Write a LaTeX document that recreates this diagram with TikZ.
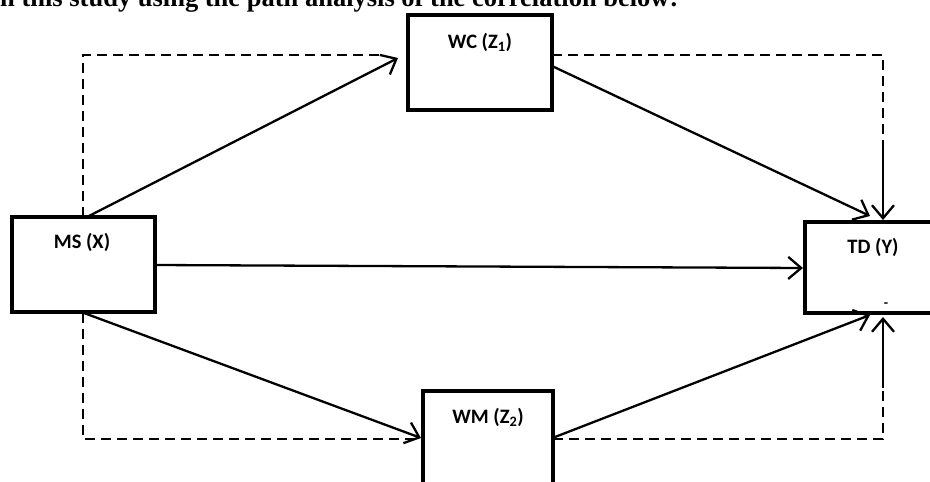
\documentclass[tikz,border=0pt]{standalone}
\usepackage{fontspec}
\setmainfont{Liberation Serif}
\newfontfamily\labfont{Carlito}
\usetikzlibrary{arrows.meta}
\begin{document}
\begin{tikzpicture}[x=1pt,y=-1pt,
  box/.style={draw,line width=3.4pt,inner sep=0pt,outer sep=0pt},
  lbl/.style={font=\labfont\bfseries\fontsize{20.5}{24}\selectfont,inner sep=0pt},
  conn/.style={line width=2.3pt,-{Straight Barb[length=13pt,width=22pt]}},
  dsh/.style={line width=1.8pt,dash pattern=on 10pt off 6pt}]
\useasboundingbox (0,0) rectangle (930,482);
\clip (0,0) rectangle (930,482);
% title (cut off at top, as in the reference)
\node[anchor=base west,font=\bfseries\fontsize{26.5}{30}\selectfont,inner sep=0pt] (title) at (0,6.5) {n this study using the path analysis of the correlation below:};
% boxes
\node[box,minimum width=143pt,minimum height=95pt] (ms) at (83.5,264.5) {};
\node[box,minimum width=144pt,minimum height=95pt] (wc) at (480,62.5) {};
\node[box,minimum width=143pt,minimum height=91pt] (td) at (876.5,267.5) {};
\node[box,minimum width=130pt,minimum height=109pt] (wm) at (488,445.5) {};
% labels
\node[lbl] (mslbl) at (82,242) {MS (X)};
\node[lbl] (wclbl) at (480,42) {WC (Z\textsubscript{1})};
\node[lbl] (tdlbl) at (873,247) {TD (Y)};
\node[lbl] (wmlbl) at (488,417) {WM (Z\textsubscript{2})};
\node[font=\labfont\bfseries\fontsize{14}{16}\selectfont,inner sep=0pt] (dashmark) at (886,305) {-};
% coordinates
\coordinate (msT) at (87,217);
\coordinate (msTd) at (83,217);
\coordinate (wcIn) at (385,55);
\coordinate (wcTip) at (398,58);
\coordinate (wcR) at (552,55);
\coordinate (wcRs) at (552,66);
\coordinate (trC) at (883,55);
\coordinate (trE) at (883,143);
\coordinate (tdTop) at (883,220);
\coordinate (tdTopA) at (870,216);
\coordinate (msR) at (155,265);
\coordinate (tdL) at (803,268);
\coordinate (msB) at (84,313);
\coordinate (msBd) at (83,313);
\coordinate (wmTip) at (421,438);
\coordinate (wmIn) at (423,439);
\coordinate (wmR) at (555,437);
\coordinate (wmRd) at (553,439);
\coordinate (brC) at (883,439);
\coordinate (brE) at (883,388);
\coordinate (tdBot) at (883,317);
\coordinate (tdBotA) at (870,315);
% dashed paths
\draw[dsh] (msTd) |- (wcIn);
\draw[dsh] (wcR) -- (trC) -- (trE);
\draw[dsh] (msBd) |- (wmIn);
\draw[dsh] (wmRd) -- (brC) -- (brE);
% solid arrows
\draw[conn] (msT) -- (wcTip);
\draw[conn] (wcRs) -- (tdTopA);
\draw[conn] (trE) -- (tdTop);
\draw[conn] (msR) -- (tdL);
\draw[conn] (msB) -- (wmTip);
\draw[conn] (wmR) -- (tdBotA);
\draw[conn] (brE) -- (tdBot);
\end{tikzpicture}
\end{document}
